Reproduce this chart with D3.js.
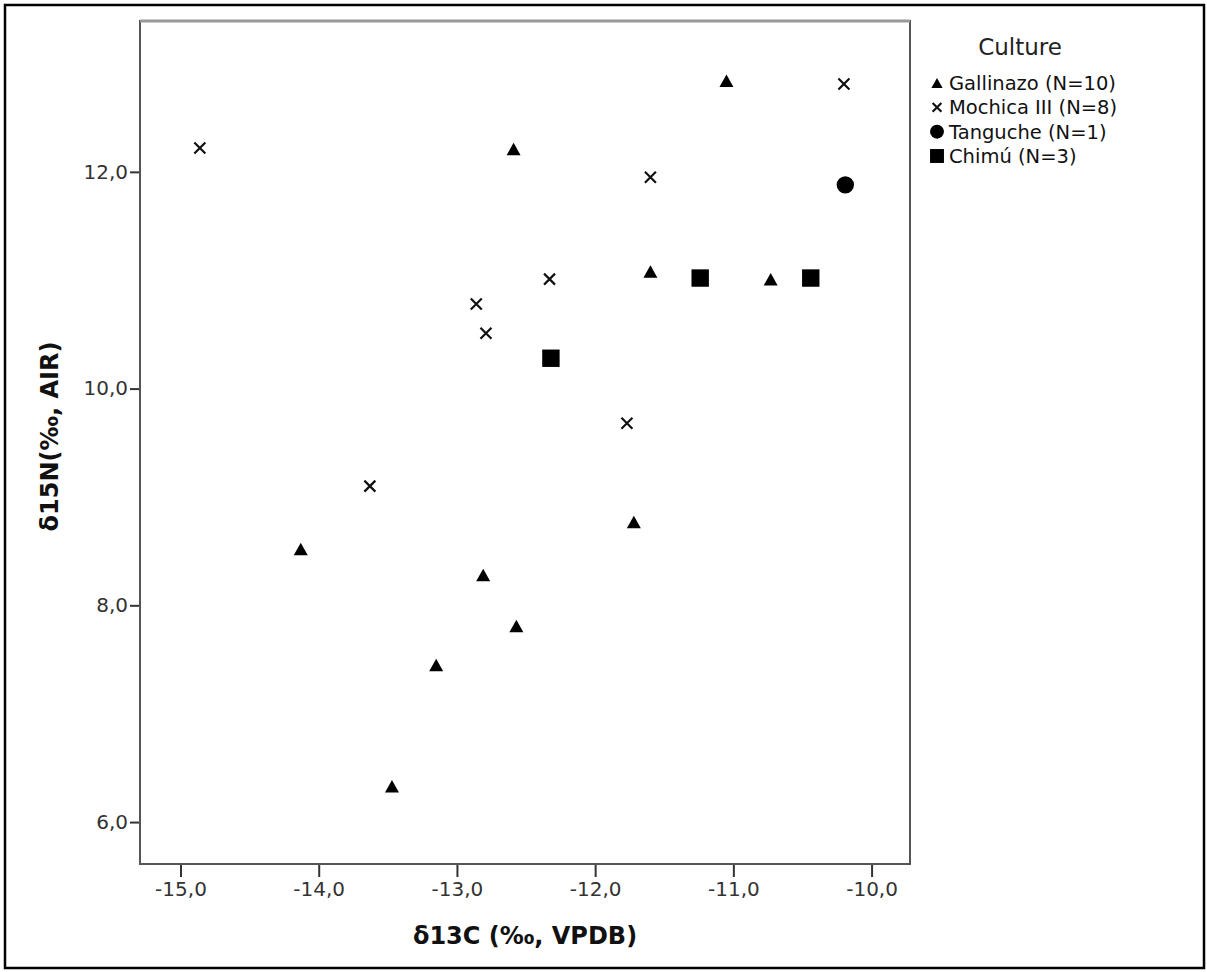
<!DOCTYPE html>
<html>
<head>
<meta charset="utf-8">
<script src="https://cdn.jsdelivr.net/npm/d3@7"></script>
<style>
  html, body { margin: 0; padding: 0; background: #fff; }
  svg { display: block; }
  text { font-family: "DejaVu Sans", "Liberation Sans", sans-serif; }
</style>
</head>
<body>
<svg id="chart" width="1207" height="972"></svg>
<script>
// Stable isotope values (δ13C, δ15N) per individual, grouped by culture
const gallinazoC = [-11.05, -12.59, -11.60, -10.73, -11.72, -14.13, -12.81, -12.57, -13.15, -13.47];
const gallinazoN = [12.84, 12.21, 11.08, 11.01, 8.77, 8.52, 8.28, 7.81, 7.45, 6.33];

const mochicaC = [-14.86, -10.20, -11.60, -12.33, -12.86, -12.79, -11.77, -13.63];
const mochicaN = [12.22, 12.81, 11.95, 11.01, 10.78, 10.51, 9.68, 9.10];

const tanguheC = [-10.19];
const tanguheN = [11.88];

const chimuC = [-11.24, -10.44, -12.32];
const chimuN = [11.02, 11.02, 10.28];

const cultureNames = ["Gallinazo (N=10)", "Mochica III (N=8)", "Tanguche (N=1)", "Chimú (N=3)"];
const cultureShapes = ["triangle", "cross", "circle", "square"];

const xTicks = [-15, -14, -13, -12, -11, -10];
const yTicks = [6, 8, 10, 12];

const groups = [
  { name: cultureNames[0], shape: cultureShapes[0], c: gallinazoC, n: gallinazoN },
  { name: cultureNames[1], shape: cultureShapes[1], c: mochicaC, n: mochicaN },
  { name: cultureNames[2], shape: cultureShapes[2], c: tanguheC, n: tanguheN },
  { name: cultureNames[3], shape: cultureShapes[3], c: chimuC, n: chimuN }
];

const svg = d3.select("#chart");
const W = 1207, H = 972;

// Outer frame of the figure
svg.append("rect")
  .attr("x", 5).attr("y", 5).attr("width", W - 8).attr("height", H - 9)
  .attr("fill", "none").attr("stroke", "#000").attr("stroke-width", 2.5);

const plot = { left: 140, top: 21, right: 910, bottom: 864 };

const x = d3.scaleLinear().domain([-15.293, -9.722]).range([plot.left, plot.right]);
const y = d3.scaleLinear().domain([5.613, 13.392]).range([plot.bottom, plot.top]);

const fmt = v => d3.format(".1f")(v).replace(".", ",").replace("−", "-");

// Axes
const xAxis = svg.append("g")
  .attr("transform", `translate(0,${plot.bottom})`)
  .call(d3.axisBottom(x).tickValues(xTicks).tickFormat(fmt).tickSize(13).tickSizeOuter(0).tickPadding(5));
const yAxis = svg.append("g")
  .attr("transform", `translate(${plot.left},0)`)
  .call(d3.axisLeft(y).tickValues(yTicks).tickFormat(fmt).tickSize(10).tickSizeOuter(0).tickPadding(2));

[xAxis, yAxis].forEach(g => {
  g.select(".domain").remove();
  g.selectAll(".tick line").attr("stroke", "#333").attr("stroke-width", 2);
  g.selectAll(".tick text")
    .attr("fill", "#333")
    .style("font-size", "20px")
    .style("font-family", "\"DejaVu Sans\", sans-serif");
});

// Plot frame
svg.append("rect")
  .attr("x", plot.left).attr("y", plot.top)
  .attr("width", plot.right - plot.left).attr("height", plot.bottom - plot.top)
  .attr("fill", "none").attr("stroke", "#555").attr("stroke-width", 2);
svg.append("line")
  .attr("x1", plot.left).attr("x2", plot.right)
  .attr("y1", plot.top).attr("y2", plot.top)
  .attr("stroke", "#999").attr("stroke-width", 3);

// Axis titles
svg.append("text")
  .attr("x", (plot.left + plot.right) / 2).attr("y", 944)
  .attr("text-anchor", "middle")
  .style("font-size", "24px").style("font-weight", "bold").attr("fill", "#111")
  .text("δ13C (‰, VPDB)");

svg.append("text")
  .attr("transform", `translate(58,${(plot.top + plot.bottom) / 2 - 6}) rotate(-90)`)
  .attr("text-anchor", "middle")
  .style("font-size", "24px").style("font-weight", "bold").attr("fill", "#111")
  .text("δ15N(‰, AIR)");

// Marker shapes, centred on their bounding box
function marker(sel, shape, s) {
  if (shape === "triangle") {
    const w = 7 * s, h = 6.25 * s;
    sel.append("path").attr("d", `M0,${-h}L${w},${h}L${-w},${h}Z`).attr("fill", "#000");
  } else if (shape === "square") {
    const a = 8.7 * s;
    sel.append("rect").attr("x", -a).attr("y", -a).attr("width", 2 * a).attr("height", 2 * a).attr("fill", "#000");
  } else if (shape === "circle") {
    sel.append("circle").attr("r", 8.7 * s).attr("fill", "#000");
  } else {
    const a = 5.5 * s;
    sel.append("path").attr("d", `M${-a},${-a}L${a},${a}M${-a},${a}L${a},${-a}`)
      .attr("stroke", "#111").attr("stroke-width", 2.2).attr("fill", "none");
  }
}

// Points
groups.forEach(g => {
  const pts = g.c.map((c, i) => ({ c, n: g.n[i] }));
  svg.append("g").selectAll("g").data(pts).join("g")
    .attr("transform", d => `translate(${x(d.c)},${y(d.n)})`)
    .each(function () { marker(d3.select(this), g.shape, 1); });
});

// Legend
const legend = svg.append("g");
legend.append("text")
  .attr("x", 1020).attr("y", 55).attr("text-anchor", "middle")
  .style("font-size", "23px").attr("fill", "#222")
  .text("Culture");

const rowY = d3.scalePoint().domain(cultureNames).range([83, 156]);
groups.forEach(g => {
  const row = legend.append("g").attr("transform", `translate(937,${rowY(g.name)})`);
  marker(row, g.shape, 0.8);
  row.append("text").attr("x", 12).attr("y", 0).attr("dy", "0.36em")
    .style("font-size", "19.5px").attr("fill", "#111")
    .text(g.name);
});
</script>
</body>
</html>
